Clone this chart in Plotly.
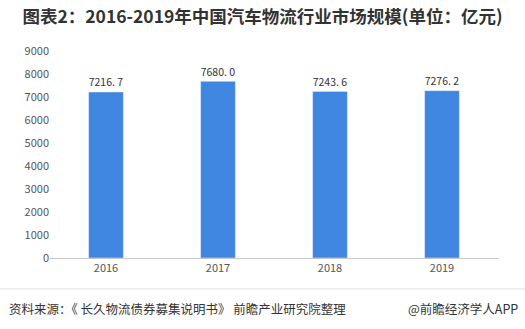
import plotly.graph_objects as go

years = ["2016", "2017", "2018", "2019"]
values = [7216.7, 7680.0, 7243.6, 7276.2]
labels = ["7216. 7", "7680. 0", "7243. 6", "7276. 2"]
yticks = [0, 1000, 2000, 3000, 4000, 5000, 6000, 7000, 8000, 9000]

fig = go.Figure(go.Bar(
    x=years, y=values, text=labels, textposition="outside",
    textfont=dict(size=12, color="#333333", family="Noto Sans CJK SC"),
    marker_color="#3f86e0", width=0.31, cliponaxis=False,
))
fig.update_layout(
    width=525, height=329, margin=dict(l=50, r=27, t=51, b=71),
    paper_bgcolor="white", plot_bgcolor="white", showlegend=False,
    font=dict(family="Noto Sans CJK SC", size=11, color="#555555"),
    title=dict(text="<b>图表2：2016-2019年中国汽车物流行业市场规模(单位：亿元)</b>",
               x=0.5, xanchor="center", y=0.948, yanchor="middle",
               font=dict(size=17.5, color="#333333")),
    xaxis=dict(showline=True, linecolor="#c8c8c8", linewidth=1, ticks="",
               tickfont=dict(size=11, color="#555555")),
    yaxis=dict(range=[0, 9000], tickvals=yticks, showgrid=False, zeroline=False,
               ticks="", tickfont=dict(size=11, color="#555555")),
    shapes=[dict(type="line", xref="paper", yref="paper", x0=-0.12, x1=1.07,
                 y0=-0.149, y1=-0.149, line=dict(color="#ebebeb", width=1.5))],
    annotations=[
        dict(text="资料来源：《 长久物流债券募集说明书》 前瞻产业研究院整理", xref="paper", yref="paper",
             x=-0.096, y=-0.245, xanchor="left", yanchor="middle", showarrow=False,
             font=dict(size=12.5, color="#333333")),
        dict(text="@前瞻经济学人APP", xref="paper", yref="paper",
             x=1.05, y=-0.245, xanchor="right", yanchor="middle", showarrow=False,
             font=dict(size=12.5, color="#333333")),
    ],
)
fig.write_html("out.html")
